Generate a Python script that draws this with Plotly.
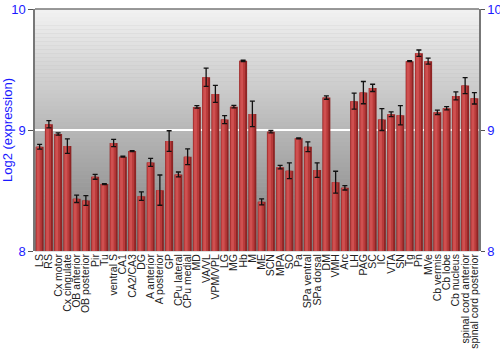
import plotly.graph_objects as go

categories = ["LS", "RS", "Cx motor", "Cx cingulate", "OB anterior", "OB posterior", "Pir", "Tu",
              "ventral S", "CA1", "CA2/CA3", "DG", "A anterior", "A posterior", "GP", "CPu lateral",
              "CPu medial", "MD", "VA/VL", "VPM/VPL", "LG", "MG", "Hb", "M", "ME", "SCN", "MPA", "SO",
              "Pa", "SPa ventral", "SPa dorsal", "DM", "VMH", "Arc", "LH", "PAG", "SC", "IC", "VTA",
              "SN", "Tg", "Pn", "MVe", "Cb vermis", "Cb lobe", "Cb nucleus", "spinal cord anterior",
              "spinal cord posterior"]

values = [8.862, 9.047, 8.967, 8.867, 8.431, 8.417, 8.613, 8.553,
          8.892, 8.779, 8.826, 8.453, 8.732, 8.503, 8.909, 8.633,
          8.779, 9.191, 9.436, 9.298, 9.086, 9.193, 9.572, 9.133, 8.406, 8.986, 8.693, 8.663,
          8.931, 8.862, 8.669, 9.268, 8.569, 8.522, 9.238, 9.309, 9.348, 9.086, 9.130,
          9.122, 9.569, 9.635, 9.569, 9.146, 9.180, 9.282, 9.367,
          9.262]

errors = [0.02, 0.03, 0.01, 0.06, 0.03, 0.04, 0.02, 0.004,
          0.03, 0.004, 0.004, 0.035, 0.033, 0.125, 0.085, 0.02,
          0.065, 0.01, 0.075, 0.07, 0.033, 0.01, 0.006, 0.105, 0.025, 0.01, 0.015, 0.065,
          0.004, 0.04, 0.06, 0.014, 0.09, 0.018, 0.066, 0.092, 0.03, 0.09, 0.02,
          0.08, 0.004, 0.026, 0.025, 0.018, 0.014, 0.033, 0.066,
          0.047]

y_ticks = [8, 9, 10]
y_title = "Log2 (expression)"

font_family = "Liberation Sans, Arial, sans-serif"
blue = "#1a1aff"

fig = go.Figure()

# bar with simulated horizontal shading (layered bars)
fig.add_trace(go.Bar(x=categories, y=values, width=0.86, marker=dict(color="#8e2424", line=dict(width=0)),
                     hoverinfo="skip", showlegend=False))
fig.add_trace(go.Bar(x=categories, y=values, width=0.62, offset=-0.39,
                     marker=dict(color="#b83a3a", line=dict(width=0)), hoverinfo="skip", showlegend=False))
fig.add_trace(go.Bar(x=categories, y=values, width=0.3, offset=-0.3,
                     marker=dict(color="#cf5050", line=dict(width=0)), hoverinfo="skip", showlegend=False))

# error bars
fig.add_trace(go.Scatter(x=categories, y=values, mode="markers",
                         marker=dict(size=0.1, color="rgba(0,0,0,0)"),
                         error_y=dict(type="data", array=errors, visible=True, color="#111111",
                                      thickness=1.3, width=2.5),
                         showlegend=False, hoverinfo="skip"))

# dummy trace for right axis
fig.add_trace(go.Scatter(x=[categories[0]], y=[y_ticks[1]], yaxis="y2", mode="markers",
                         marker=dict(size=0.1, color="rgba(0,0,0,0)"), showlegend=False, hoverinfo="skip"))

# background gradient strips
n = 60
shapes = []
top = (242, 242, 242)
bot = (124, 124, 124)
for i in range(n):
    t = (i + 0.5) / n
    c = [int(round(top[k] + (bot[k] - top[k]) * t)) for k in range(3)]
    shapes.append(dict(type="rect", xref="paper", yref="paper", x0=0, x1=1,
                       y0=1 - (i + 1) / n - 0.001, y1=1 - i / n,
                       fillcolor=f"rgb({c[0]},{c[1]},{c[2]})", line=dict(width=0), layer="below"))
# top border
shapes.append(dict(type="line", xref="paper", yref="paper", x0=0, x1=1, y0=1, y1=1,
                   line=dict(color="#777777", width=1.5), layer="above"))

fig.update_layout(
    width=500, height=350,
    margin=dict(l=35, r=21, t=9, b=99),
    paper_bgcolor="white",
    plot_bgcolor="#b0b0b0",
    barmode="overlay",
    bargap=0.1,
    font=dict(family=font_family, size=12, color="#222222"),
    shapes=shapes,
    xaxis=dict(tickangle=-90, tickmode="array", tickvals=categories, ticktext=categories,
               range=[-0.5, len(categories) - 0.5],
               tickfont=dict(size=10.5, color="#222222"), showgrid=False,
               ticks="", showline=False, zeroline=False, automargin=False),
    yaxis=dict(range=[8, 10], tickvals=y_ticks, tickfont=dict(size=13, color=blue),
               title=dict(text=y_title, font=dict(size=13, color=blue), standoff=4),
               showgrid=True, gridcolor="white", gridwidth=1.5,
               showline=True, linecolor="#777777", linewidth=1.5,
               ticks="outside", ticklen=5, tickcolor="#555555", zeroline=False, automargin=False),
    yaxis2=dict(range=[8, 10], tickvals=y_ticks, overlaying="y", side="right",
                tickfont=dict(size=13, color=blue), showgrid=False,
                showline=True, linecolor="#777777", linewidth=1.5,
                ticks="outside", ticklen=4, tickcolor="#555555", zeroline=False, automargin=False),
)

fig.write_html("out.html")
